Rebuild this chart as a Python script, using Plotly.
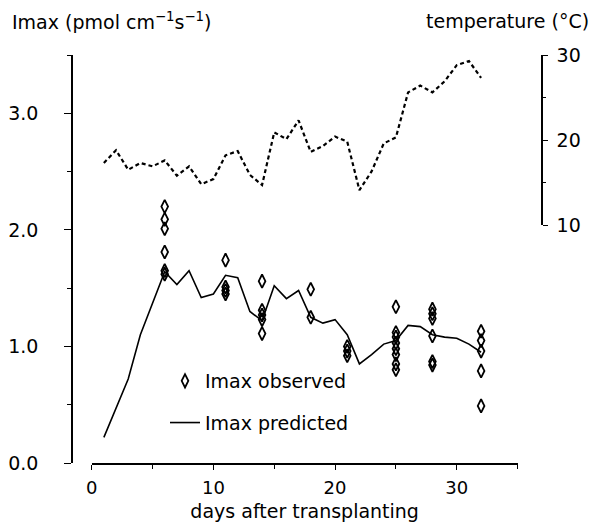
import plotly.graph_objects as go

# ---- data ----
pred_day = list(range(1, 33))
pred_imax = [0.22, 0.47, 0.72, 1.10, 1.37, 1.64, 1.53, 1.65, 1.42, 1.45,
             1.61, 1.59, 1.30, 1.22, 1.52, 1.41, 1.48, 1.25, 1.20, 1.23,
             1.10, 0.85, 0.93, 1.02, 1.05, 1.18, 1.17, 1.10, 1.08, 1.07,
             1.02, 0.95]

obs_day = ([6] * 6 + [11] * 4 + [14] * 5 + [18] * 2 + [21] * 3 +
           [25] * 8 + [28] * 6 + [32] * 5)
obs_imax = [2.20, 2.09, 2.01, 1.81, 1.65, 1.62,
            1.74, 1.51, 1.48, 1.45,
            1.56, 1.31, 1.27, 1.23, 1.11,
            1.49, 1.25,
            1.00, 0.96, 0.92,
            1.34, 1.12, 1.08, 1.03, 0.98, 0.93, 0.85, 0.80,
            1.32, 1.28, 1.24, 1.09, 0.87, 0.84,
            1.13, 1.05, 0.96, 0.79, 0.49]

temp_day = list(range(1, 33))
temp_c = [17.3, 18.8, 16.5, 17.3, 16.9, 17.6, 15.8, 16.9, 14.8, 15.4,
          18.2, 18.7, 15.9, 14.7, 20.9, 20.1, 22.3, 18.6, 19.3, 20.4,
          19.8, 14.1, 16.3, 19.6, 20.3, 25.6, 26.4, 25.6, 26.9, 28.8,
          29.3, 27.3]

x_ticks = [0, 10, 20, 30]
y_ticks = [0.0, 1.0, 2.0, 3.0]
t_ticks = [10, 20, 30]

FONT = "DejaVu Sans"

fig = go.Figure()

fig.add_trace(go.Scatter(
    x=obs_day, y=obs_imax, mode="markers", name="Imax observed",
    legendgroup="a",
    marker=dict(symbol="diamond-tall-open", size=9.5, color="black",
                line=dict(width=1.8, color="black")),
    xaxis="x", yaxis="y"))

fig.add_trace(go.Scatter(
    x=pred_day, y=pred_imax, mode="lines", name="Imax predicted",
    legendgroup="b",
    line=dict(color="black", width=1.6),
    xaxis="x", yaxis="y"))

fig.add_trace(go.Scatter(
    x=temp_day, y=temp_c, mode="lines", name="temperature",
    showlegend=False,
    line=dict(color="black", width=2.2, dash="4px,3px"),
    xaxis="x", yaxis="y2"))

# the page body adds an 8 px offset, so the figure is made 8 px smaller
OFF = 8
W, H = 605 - OFF, 527 - OFF
# plot area on screen: x 72..542, y 55..463
ml, mt = 72 - OFF, 55 - OFF
mr = W - (542 - OFF)
mb = H - (463 - OFF)
pw = 542 - 72
ph = 463 - 55


def px(sx):
    return (sx - 72) / pw


def py(sy):
    return (463 - sy) / ph


x_dom = [px(91.7), px(517.6)]
t_dom = [py(225), 1.0]

fig.update_layout(
    width=W, height=H,
    margin=dict(l=ml, r=mr, t=mt, b=mb, autoexpand=False),
    paper_bgcolor="white", plot_bgcolor="rgba(0,0,0,0)",
    font=dict(family=FONT, size=18, color="black"),
    showlegend=True,
    legend=dict(x=px(165), y=py(362), xanchor="left",
                yanchor="top", bgcolor="rgba(0,0,0,0)",
                font=dict(family=FONT, size=19),
                traceorder="grouped", tracegroupgap=14),
    xaxis=dict(domain=x_dom, range=[0, 35], anchor="y",
               showline=True, linecolor="black", linewidth=1.5,
               ticks="outside", ticklen=5, tickwidth=1.3, tickcolor="black",
               tickvals=x_ticks, ticktext=[str(v) for v in x_ticks],
               ticklabelstandoff=3,
               minor=dict(tickvals=[5, 15, 25, 35], ticks="outside",
                          ticklen=4, tickcolor="black", tickwidth=1.3),
               showgrid=False, zeroline=False,
               title=dict(text="days after transplanting",
                          font=dict(family=FONT, size=19), standoff=7)),
    yaxis=dict(domain=[0, 1], range=[0, 3.5], anchor="free", position=0,
               showline=True, linecolor="black", linewidth=1.5,
               ticks="outside", ticklen=7, tickwidth=1.3, tickcolor="black",
               tickvals=y_ticks, ticktext=["%.1f" % v for v in y_ticks],
               tickfont=dict(family=FONT, size=19),
               ticklabelstandoff=22,
               minor=dict(tickvals=[0.5, 1.5, 2.5, 3.5], ticks="outside",
                          ticklen=4, tickcolor="black", tickwidth=1.3),
               showgrid=False, zeroline=False),
    yaxis2=dict(domain=t_dom, range=[10, 30], anchor="free", position=1,
                side="right",
                showline=True, linecolor="black", linewidth=1.5,
                ticks="outside", ticklen=5, tickwidth=1.3, tickcolor="black",
                tickvals=t_ticks, ticktext=[str(v) for v in t_ticks],
                tickfont=dict(family=FONT, size=19),
                ticklabelstandoff=5,
                minor=dict(tickvals=[15, 25], ticks="outside",
                           ticklen=3, tickcolor="black", tickwidth=1.3),
                showgrid=False, zeroline=False),
    annotations=[
        dict(text="Imax (pmol cm<sup>−1</sup>s<sup>−1</sup>)",
             xref="paper", yref="paper", x=px(10), y=py(21),
             xanchor="left", yanchor="middle", showarrow=False,
             font=dict(family=FONT, size=19)),
        dict(text="temperature (°C)",
             xref="paper", yref="paper", x=px(591), y=py(21),
             xanchor="right", yanchor="middle", showarrow=False,
             font=dict(family=FONT, size=19)),
    ],
)

fig.write_html("out.html")
